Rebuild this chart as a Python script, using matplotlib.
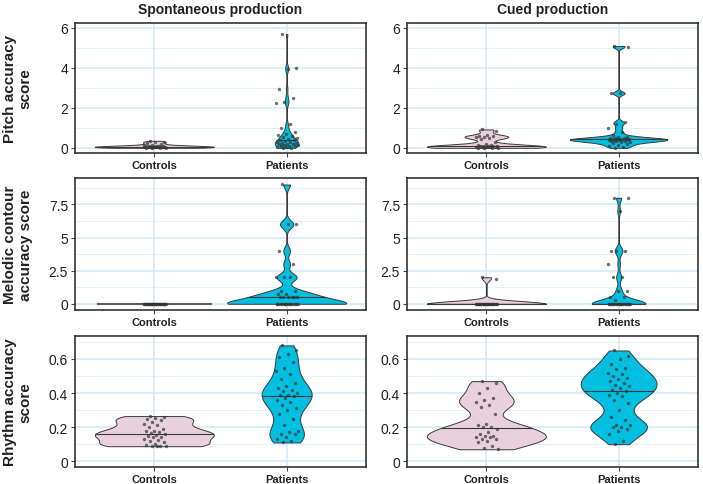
import numpy as np
import matplotlib
matplotlib.use("Agg")
import matplotlib.pyplot as plt

plt.rcParams['font.family'] = ['Liberation Sans', 'DejaVu Sans']

# ---------------- data ----------------
groups = ["Controls", "Patients"]
col_titles = ["Spontaneous production", "Cued production"]
row_labels = ["Pitch accuracy\nscore", "Melodic contour\naccuracy score", "Rhythm accuracy\nscore"]

pitch_spont_controls = [0.35, 0.30, 0.28, 0.25, 0.20, 0.15, 0.12, 0.10, 0.10, 0.08, 0.08, 0.07, 0.07, 0.06,
                        0.06, 0.05, 0.05, 0.05, 0.04, 0.04, 0.03, 0.03, 0.02, 0.02, 0.01, 0.00, 0.00, 0.00]
pitch_spont_patients = [5.70, 4.00, 3.95, 2.95, 2.50, 2.30, 2.25, 1.20, 1.00, 0.80, 0.70, 0.65, 0.60, 0.55,
                        0.50, 0.45, 0.40, 0.40, 0.35, 0.30, 0.30, 0.25, 0.25, 0.20, 0.20, 0.20, 0.15, 0.15,
                        0.10, 0.10, 0.10, 0.05, 0.05, 0.00, 0.00]
pitch_cued_controls = [0.92, 0.85, 0.65, 0.60, 0.58, 0.55, 0.52, 0.50, 0.45, 0.30, 0.20, 0.15, 0.12, 0.10,
                       0.10, 0.08, 0.08, 0.07, 0.06, 0.05, 0.05, 0.04, 0.03, 0.02, 0.01, 0.00, 0.00, 0.00]
pitch_cued_patients = [5.10, 5.05, 2.75, 2.72, 1.30, 1.20, 1.00, 0.80, 0.65, 0.55, 0.52, 0.50, 0.48, 0.47,
                       0.45, 0.45, 0.44, 0.42, 0.42, 0.41, 0.40, 0.40, 0.38, 0.37, 0.35, 0.35, 0.33, 0.30,
                       0.28, 0.25, 0.20, 0.15, 0.10, 0.05, 0.00]

melodic_spont_controls = [0, 0, 0, 0, 0, 0, 0, 0, 0, 0, 0, 0, 0, 0, 0, 0, 0, 0, 0, 0, 0, 0, 0, 0, 0, 0, 0, 0]
melodic_spont_patients = [9, 6, 6, 4, 3, 2, 2, 2, 1, 1, 0.75, 0.75, 0.5, 0.5, 0.5, 0.5, 0.5, 0.5,
                          0, 0, 0, 0, 0, 0, 0, 0, 0, 0, 0, 0, 0, 0, 0, 0]
melodic_cued_controls = [2, 1.9, 0, 0, 0, 0, 0, 0, 0, 0, 0, 0, 0, 0, 0, 0, 0, 0, 0, 0, 0, 0, 0, 0, 0, 0, 0]
melodic_cued_patients = [8, 8, 7, 4, 4, 4, 3, 2, 2, 1, 1, 0.5, 0.5, 0.25,
                         0, 0, 0, 0, 0, 0, 0, 0, 0, 0, 0, 0, 0, 0, 0, 0, 0, 0, 0, 0]

rhythm_spont_controls = [0.265, 0.26, 0.255, 0.25, 0.24, 0.23, 0.22, 0.21, 0.20, 0.19, 0.18, 0.175, 0.17,
                         0.165, 0.16, 0.155, 0.15, 0.145, 0.14, 0.13, 0.125, 0.12, 0.11, 0.10, 0.095, 0.09,
                         0.09, 0.088, 0.088]
rhythm_spont_patients = [0.68, 0.65, 0.63, 0.61, 0.58, 0.55, 0.53, 0.51, 0.48, 0.46, 0.44, 0.43, 0.42, 0.41,
                         0.40, 0.39, 0.39, 0.38, 0.37, 0.36, 0.35, 0.33, 0.31, 0.30, 0.28, 0.25, 0.21, 0.18,
                         0.17, 0.16, 0.16, 0.14, 0.13, 0.12, 0.11]
rhythm_cued_controls = [0.47, 0.46, 0.43, 0.40, 0.37, 0.36, 0.35, 0.33, 0.32, 0.28, 0.22, 0.21, 0.20, 0.20,
                        0.19, 0.17, 0.16, 0.15, 0.15, 0.14, 0.14, 0.13, 0.13, 0.12, 0.11, 0.09, 0.08, 0.07]
rhythm_cued_patients = [0.65, 0.62, 0.60, 0.57, 0.55, 0.54, 0.52, 0.51, 0.50, 0.49, 0.48, 0.47, 0.46, 0.45,
                        0.44, 0.43, 0.42, 0.41, 0.40, 0.39, 0.38, 0.36, 0.34, 0.30, 0.26, 0.24, 0.21, 0.21,
                        0.20, 0.20, 0.19, 0.18, 0.16, 0.12, 0.10]

pitch_ticks = [0, 2, 4, 6]
pitch_tick_labels = ["0", "2", "4", "6"]
melodic_ticks = [0, 2.5, 5, 7.5]
melodic_tick_labels = ["0", "2.5", "5", "7.5"]
rhythm_ticks = [0, 0.2, 0.4, 0.6]
rhythm_tick_labels = ["0", "0.2", "0.4", "0.6"]

# ---------------- styling / layout ----------------
panels = [
    [(pitch_spont_controls, pitch_spont_patients), (pitch_cued_controls, pitch_cued_patients)],
    [(melodic_spont_controls, melodic_spont_patients), (melodic_cued_controls, melodic_cued_patients)],
    [(rhythm_spont_controls, rhythm_spont_patients), (rhythm_cued_controls, rhythm_cued_patients)],
]
bandwidths = [
    [(0.05, 0.18), (0.09, 0.09)],
    [(0.6, 0.3), (0.2, 0.3)],
    [(0.022, 0.055), (0.038, 0.045)],
]
row_ticks = [(pitch_ticks, pitch_tick_labels), (melodic_ticks, melodic_tick_labels), (rhythm_ticks, rhythm_tick_labels)]
row_minor = [[1, 3, 5], [1.25, 3.75, 6.25, 8.75], [0.1, 0.3, 0.5, 0.7]]
row_ylim = [(-0.26, 6.25), (-0.47, 9.49), (-0.034, 0.735)]

fills = ["#E8D0DD", "#00BFE0"]
edge = "#3a3a3a"
grid_major = "#d0e8fa"
grid_minor = "#e2f1fc"

W, H = 703, 485
fig = plt.figure(figsize=(W / 100, H / 100), dpi=100)
fig.patch.set_facecolor("white")

col_x = [75, 407]
col_w = 291
row_top = [24, 179, 337]
row_h = [130, 132, 131]


def kde(vals, bw, grid):
    vals = np.asarray(vals, float)
    z = (grid[:, None] - vals[None, :]) / bw
    return np.exp(-0.5 * z ** 2).sum(axis=1) / (len(vals) * bw * np.sqrt(2 * np.pi))


max_half = 0.45
for r in range(3):
    for c in range(2):
        ax = fig.add_axes([col_x[c] / W, 1 - (row_top[r] + row_h[r]) / H, col_w / W, row_h[r] / H])
        ax.set_facecolor("white")
        ax.set_axisbelow(True)
        ylo, yhi = row_ylim[r]
        ax.set_xlim(0.4, 2.6)
        ax.set_ylim(ylo, yhi)
        for m in row_minor[r]:
            ax.axhline(m, color=grid_minor, lw=0.8, zorder=0)
        for t in row_ticks[r][0]:
            ax.axhline(t, color=grid_major, lw=1.1, zorder=0)
        for xp in (1, 2):
            ax.axvline(xp, color=grid_major, lw=1.1, zorder=0)

        dens = []
        for g in range(2):
            vals = np.asarray(panels[r][c][g], float)
            bw = bandwidths[r][c][g]
            if vals.max() > vals.min():
                yy = np.linspace(vals.min(), vals.max(), 512)
            else:
                yy = np.array([vals.min()])
            dens.append((yy, kde(vals, bw, yy)))
        dmax = max(d.max() for _, d in dens)

        for g in range(2):
            vals = np.asarray(panels[r][c][g], float)
            pos = g + 1
            yy, d = dens[g]
            half = d / dmax * max_half
            if len(yy) > 1:
                ax.fill_betweenx(yy, pos - half, pos + half, facecolor=fills[g], edgecolor=edge,
                                 lw=0.7, zorder=2)
                med = np.median(vals)
                hm = np.interp(med, yy, half)
                ax.plot([pos - hm, pos + hm], [med, med], color=edge, lw=0.8, zorder=3)
            else:
                ax.plot([pos - half[0], pos + half[0]], [yy[0], yy[0]], color="#5a5a5a", lw=1.5, zorder=2)
            n = len(vals)
            offs = ((np.arange(n) * 0.6180339887 + 0.31) % 1 - 0.5) * 2 * 0.085
            ax.scatter(pos + offs, vals, s=6, color="#333333", alpha=0.7, lw=0, zorder=4)

        ax.set_xticks([1, 2])
        ax.set_xticklabels(groups, fontsize=8, fontweight="bold", color="#222222")
        ax.set_yticks(row_ticks[r][0])
        ax.set_yticklabels(row_ticks[r][1], fontsize=10, color="#222222")
        ax.tick_params(axis="both", length=3, width=0.8, color="#444444", pad=2)
        for sp in ax.spines.values():
            sp.set_color("#333333")
            sp.set_linewidth(1.2)
        if r == 0:
            ax.set_title(col_titles[c], fontsize=10, fontweight="bold", pad=7, color="#222222")
        if c == 0:
            fig.text(18 / W, 1 - (row_top[r] + row_h[r] / 2) / H, row_labels[r], rotation=90,
                     ha="center", va="center", multialignment="center", fontsize=11,
                     fontweight="bold", color="#222222", linespacing=1.15)

fig.savefig("out.png", dpi=100, facecolor="white")
